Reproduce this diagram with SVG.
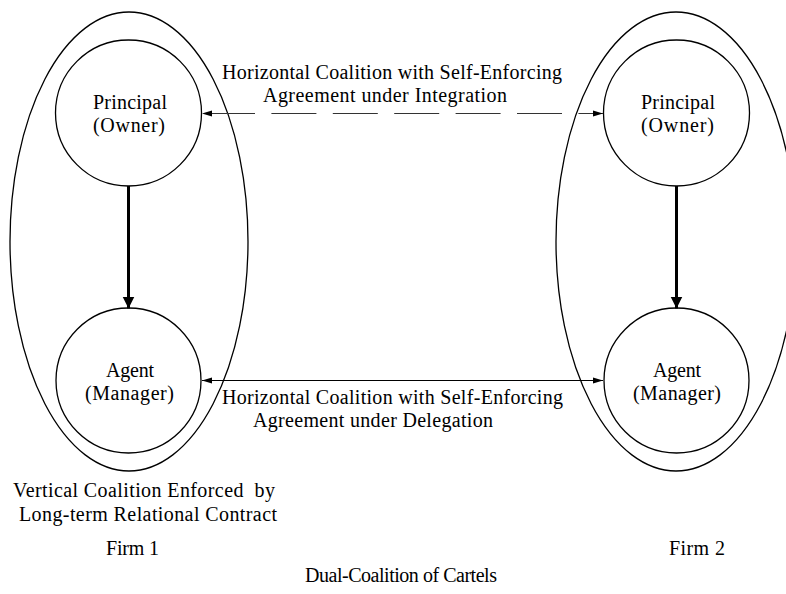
<svg xmlns="http://www.w3.org/2000/svg" width="786" height="594" viewBox="0 0 786 594">
<style>
text{font-family:"Liberation Serif","Times New Roman",serif;font-size:20px;fill:#000}
.shape{fill:none;stroke:#000;stroke-width:1.3}
.thin{stroke:#000;stroke-width:1.1;fill:none}
.thick{stroke:#000;stroke-width:3;fill:none}
</style>
<defs>
<marker id="ah" markerUnits="userSpaceOnUse" markerWidth="11" markerHeight="7" refX="10" refY="3.5" orient="auto-start-reverse" viewBox="0 0 11 7">
<path d="M0,0.5 L10,3.5 L0,6.5 z" fill="#000"/>
</marker>
<marker id="ahb" markerUnits="userSpaceOnUse" markerWidth="13" markerHeight="13" refX="12" refY="6" orient="auto" viewBox="0 0 13 13">
<path d="M0,0 L12,6 L0,12 z" fill="#000"/>
</marker>
</defs>
<rect width="786" height="594" fill="#fff"/>
<g id="firm1">
<ellipse class="shape" cx="129" cy="241.5" rx="119" ry="229.5"/>
</g>
<g id="firm2">
<ellipse class="shape" cx="676" cy="241.5" rx="120" ry="229.5"/>
</g>
<g id="principal1">
<circle class="shape" cx="128.5" cy="113" r="73"/>
<text x="93" y="109" textLength="74" lengthAdjust="spacing">Principal</text>
<text x="93" y="132" textLength="72" lengthAdjust="spacing">(Owner)</text>
</g>
<g id="agent1">
<circle class="shape" cx="128.5" cy="380.5" r="72.5"/>
<text x="106" y="377" textLength="48" lengthAdjust="spacing">Agent</text>
<text x="85" y="400" textLength="89" lengthAdjust="spacing">(Manager)</text>
</g>
<g id="principal2">
<circle class="shape" cx="676.5" cy="113" r="73"/>
<text x="641" y="109" textLength="74" lengthAdjust="spacing">Principal</text>
<text x="641" y="132" textLength="73" lengthAdjust="spacing">(Owner)</text>
</g>
<g id="agent2">
<circle class="shape" cx="676.5" cy="380.5" r="72.5"/>
<text x="653" y="377" textLength="48" lengthAdjust="spacing">Agent</text>
<text x="633" y="400" textLength="88" lengthAdjust="spacing">(Manager)</text>
</g>
<g id="connectors">
<line class="thick" x1="128.5" y1="186" x2="128.5" y2="308.5" marker-end="url(#ahb)"/>
<line class="thick" x1="676.5" y1="186" x2="676.5" y2="308.5" marker-end="url(#ahb)"/>
<line x1="202" y1="113.5" x2="603" y2="113.5" stroke="#333" stroke-width="1.1" stroke-dasharray="45 16.4" stroke-dashoffset="53.4" marker-start="url(#ah)" marker-end="url(#ah)"/>
<line class="thin" x1="202" y1="380.5" x2="603" y2="380.5" marker-start="url(#ah)" marker-end="url(#ah)"/>
</g>
<g id="labels">
<text x="222" y="79" textLength="340" lengthAdjust="spacing">Horizontal Coalition with Self-Enforcing</text>
<text x="263" y="102" textLength="244" lengthAdjust="spacing">Agreement under Integration</text>
<text x="222" y="404" textLength="341" lengthAdjust="spacing">Horizontal Coalition with Self-Enforcing</text>
<text x="253" y="427" textLength="240" lengthAdjust="spacing">Agreement under Delegation</text>
<text x="13" y="497" textLength="262" lengthAdjust="spacing" xml:space="preserve">Vertical Coalition Enforced  by</text>
<text x="19" y="520.5" textLength="258" lengthAdjust="spacing">Long-term Relational Contract</text>
<text x="106" y="555" textLength="53" lengthAdjust="spacing">Firm 1</text>
<text x="669" y="555" textLength="56" lengthAdjust="spacing">Firm 2</text>
<text x="305" y="582" textLength="192" lengthAdjust="spacing">Dual-Coalition of Cartels</text>
</g>
</svg>
